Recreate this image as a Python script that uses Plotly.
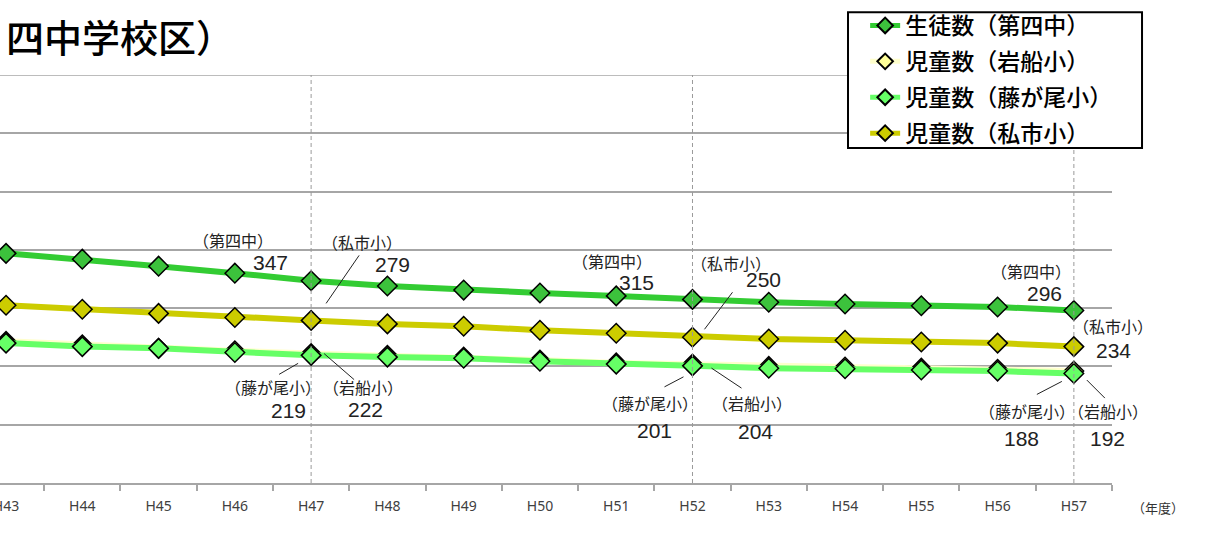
import plotly.graph_objects as go

# ---- data ----
years = ["H43", "H44", "H45", "H46", "H47", "H48", "H49", "H50",
         "H51", "H52", "H53", "H54", "H55", "H56", "H57"]
daiyon = [394, 384, 372, 360, 347, 338, 331, 326, 321, 315, 310, 307, 304, 302, 296]
iwafune = [243, 237, 231, 227, 222, 219, 216, 211, 206, 204, 200, 199, 197, 195, 192]
fujigao = [240, 234, 231, 224, 219, 216, 214, 209, 204, 201, 197, 196, 194, 192, 188]
kisaichi = [305, 298, 291, 284, 279, 273, 269, 262, 257, 250, 247, 245, 242, 240, 234]

series_names = ["生徒数（第四中）", "児童数（岩船小）", "児童数（藤が尾小）", "児童数（私市小）"]
short_names = ["（第四中）", "（岩船小）", "（藤が尾小）", "（私市小）"]
title_text = "四中学校区）"
unit_text = "（年度）"
highlight_years = ["H47", "H52", "H57"]

# ---- styles ----
JP = "Noto Sans CJK JP"
NUM = "Liberation Sans"
GRID = "#A6A6A6"
line_colors = ["#33CC33", "#FFFFCC", "#66FF66", "#CCCC00"]
marker_colors = ["#3CC23C", "#FFFF99", "#66FF66", "#CCCC00"]
all_series = [daiyon, iwafune, fujigao, kisaichi]

xi = list(range(len(years)))

fig = go.Figure()
for k, (name, vals) in enumerate(zip(series_names, all_series)):
    fig.add_trace(go.Scatter(
        x=xi, y=vals, name=name, mode="lines+markers",
        legendgroup=f"g{k}",
        line=dict(color=line_colors[k], width=6),
        marker=dict(symbol="diamond", size=15, color=marker_colors[k],
                    line=dict(color="black", width=1.5)),
        hoverinfo="skip",
    ))

# top gridline (at the upper edge of the plot area)
fig.add_shape(type="line", xref="paper", yref="y", x0=0, x1=1, y0=700, y1=700,
              line=dict(color=GRID, width=1.5), layer="below")

# dashed vertical lines at highlighted years
for yname in highlight_years:
    fig.add_shape(type="line", xref="x", yref="paper",
                  x0=years.index(yname), x1=years.index(yname), y0=0, y1=1,
                  line=dict(color="#9A9A9A", width=1, dash="4px,3px"), layer="above")

# legend frame
fig.add_shape(type="rect", xref="paper", yref="paper",
              x0=0.7626, x1=1.027, y0=0.821, y1=1.154,
              fillcolor="white", line=dict(color="black", width=2), layer="above")

# data labels: (year, series index, dx,dy for name, dx,dy for value)
labels = [
    ("H47", 0, -78, 41, -41, 18),
    ("H47", 3, 51, 78, 81, 56),
    ("H47", 2, -38, -32, -23, -55),
    ("H47", 1, 52, -33, 54, -56),
    ("H52", 0, -80, 38, -56, 17),
    ("H52", 3, 39, 74, 71, 58),
    ("H52", 2, -42, -37, -38, -65),
    ("H52", 1, 60, -39, 63, -67),
    ("H57", 0, -43, 39, -29, 17),
    ("H57", 3, 39, 21, 40, -4),
    ("H57", 2, -47, -38, -52, -65),
    ("H57", 1, 34, -40, 34, -67),
]
for yname, s, ndx, ndy, vdx, vdy in labels:
    i = years.index(yname)
    v = all_series[s][i]
    fig.add_annotation(x=i, y=v, xref="x", yref="y", text=short_names[s],
                       showarrow=False, xshift=ndx, yshift=ndy,
                       font=dict(family=JP, size=16, color="#222222"))
    fig.add_annotation(x=i, y=v, xref="x", yref="y", text=str(v),
                       showarrow=False, xshift=vdx, yshift=vdy,
                       font=dict(family=NUM, size=21, color="#222222"))

# leader lines: (year, series index, x0, y0, x1, y1) pixel offsets from the point
leaders = [
    ("H47", 3, 48, 65, 15, 17),
    ("H47", 2, -13, -8, -32, -19),
    ("H47", 1, 13, 0, 43, -26),
    ("H52", 3, 40, 45, 12, 8),
    ("H52", 2, -9, -11, -28, -21),
    ("H52", 1, 19, -4, 49, -24),
    ("H57", 2, -12, -8, -37, -21),
    ("H57", 1, 13, -9, 31, -27),
]
for yname, s, x0, y0, x1, y1 in leaders:
    i = years.index(yname)
    v = all_series[s][i]
    fig.add_shape(type="line", xref="x", yref="y",
                  xsizemode="pixel", ysizemode="pixel",
                  xanchor=i, yanchor=v, x0=x0, y0=y0, x1=x1, y1=y1,
                  line=dict(color="#222222", width=1), layer="above")

# title (cropped at left in the original)
fig.add_annotation(x=0.0, y=1.098, xref="paper", yref="paper",
                   xanchor="left", yanchor="middle", text=title_text,
                   showarrow=False, xshift=4,
                   font=dict(family=JP, size=38, color="black", weight=500))
# unit label
fig.add_annotation(x=1.0, y=-0.06, xref="paper", yref="paper",
                   xanchor="left", yanchor="middle", xshift=18, text=unit_text,
                   showarrow=False, font=dict(family=JP, size=13, color="#333333"))

fig.update_layout(
    width=1211, height=536,
    margin=dict(l=0, r=99, t=75, b=53, autoexpand=False),
    paper_bgcolor="white", plot_bgcolor="white",
    showlegend=True,
    legend=dict(x=0.778, y=1.174, xanchor="left", yanchor="top",
                bgcolor="rgba(0,0,0,0)", borderwidth=0,
                tracegroupgap=3, itemsizing="constant",
                font=dict(family=JP, size=23, color="black", weight=500)),
    xaxis=dict(range=[-0.079, 14.5], tickmode="array", tickvals=xi, ticktext=years,
               ticks="", showgrid=False, zeroline=False, automargin=False,
               showline=True, linecolor=GRID, linewidth=2,
               ticklabelstandoff=9, ticklabeloverflow="allow",
               tickfont=dict(family="Noto Sans", size=14, color="#404040"),
               minor=dict(tickmode="array",
                          tickvals=[i - 0.5 for i in range(len(years) + 1)],
                          ticks="outside", ticklen=6, tickcolor=GRID,
                          tickwidth=1.5, showgrid=False)),
    yaxis=dict(range=[0, 700], dtick=100, showticklabels=False, ticks="",
               showgrid=True, gridcolor=GRID, gridwidth=1.5, automargin=False,
               zeroline=False, showline=False),
)

fig.write_html("out.html", config={"displayModeBar": False},
               post_script="document.body.style.margin='0';")
